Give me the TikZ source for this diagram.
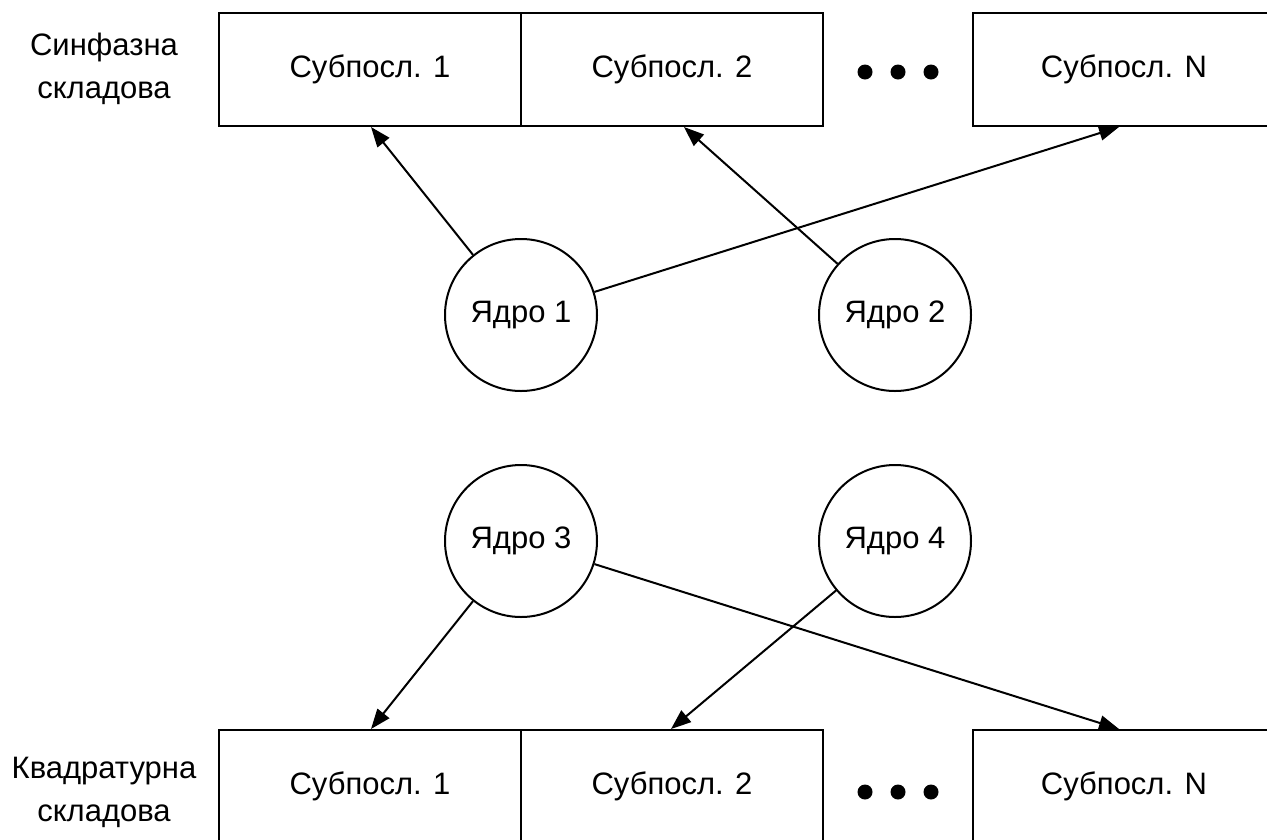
\documentclass[tikz,border=0pt]{standalone}
\usepackage{fontspec}
\setmainfont{Liberation Sans}
\usetikzlibrary{arrows.meta}
\begin{document}
\begin{tikzpicture}[x=1pt,y=-1pt,
  every node/.style={font=\fontsize{31}{43}\selectfont},
  sbox/.style={draw, line width=2pt, minimum width=302pt, minimum height=113pt, inner sep=0pt},
  core/.style={draw, circle, line width=2pt, minimum size=152pt, inner sep=0pt},
  lbl/.style={align=center, inner sep=0pt},
  dotn/.style={fill, circle, minimum size=15pt, inner sep=0pt},
  arr/.style={line width=2pt, -{Triangle[length=20pt, width=15pt]}}]
\useasboundingbox (0,0) rectangle (1267,839);
\clip (0,0) rectangle (1267,839);
% top row
\node[sbox] (t1) at (370,69.5) {Субпосл. 1};
\node[sbox] (t2) at (672,69.5) {Субпосл. 2};
\node[sbox] (tN) at (1124,69.5) {Субпосл. N};
\node[dotn] (td1) at (865,72) {};
\node[dotn] (td2) at (898,72) {};
\node[dotn] (td3) at (931,72) {};
\node[lbl] (tl) at (104,69) {Синфазна\\складова};
% bottom row
\node[sbox] (b1) at (370,786.5) {Субпосл. 1};
\node[sbox] (b2) at (672,786.5) {Субпосл. 2};
\node[sbox] (bN) at (1124,786.5) {Субпосл. N};
\node[dotn] (bd1) at (865,792) {};
\node[dotn] (bd2) at (898,792) {};
\node[dotn] (bd3) at (931,792) {};
\node[lbl] (bl) at (104,792) {Квадратурна\\складова};
% cores
\node[core] (k1) at (521,315) {Ядро 1};
\node[core] (k2) at (895,315) {Ядро 2};
\node[core] (k3) at (521,541) {Ядро 3};
\node[core] (k4) at (895,541) {Ядро 4};
% targets
\coordinate (a1) at ([xshift=153pt]t1.south west);
\coordinate (a2) at ([xshift=164pt]t2.south west);
\coordinate (aN) at ([xshift=147pt]tN.south west);
\coordinate (c1) at ([xshift=153pt]b1.north west);
\coordinate (c2) at ([xshift=151pt]b2.north west);
\coordinate (cN) at ([xshift=147pt]bN.north west);
\draw[arr] (k1) -- (a1);
\draw[arr] (k1) -- (aN);
\draw[arr] (k2) -- (a2);
\draw[arr] (k3) -- (c1);
\draw[arr] (k3) -- (cN);
\draw[arr] (k4) -- (c2);
\end{tikzpicture}
\end{document}
